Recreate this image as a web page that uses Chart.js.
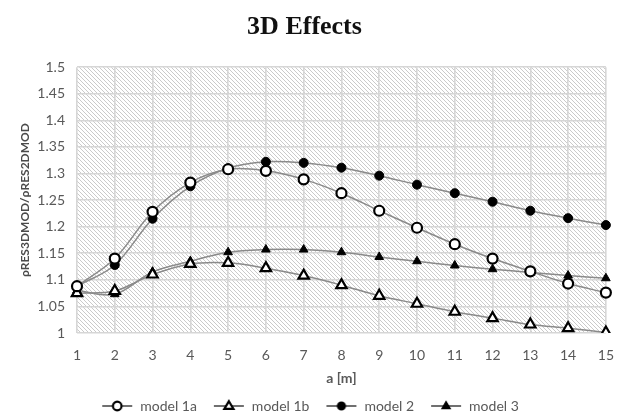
<!DOCTYPE html>
<html>
<head>
<meta charset="utf-8">
<script src="https://cdn.jsdelivr.net/npm/chart.js@4.4.0/dist/chart.umd.min.js"></script>
<style>
  html, body { margin: 0; padding: 0; background: #fff; }
</style>
</head>
<body>
<canvas id="grafico" width="628" height="417"></canvas>
<script>
// valores
const distancias = [1, 2, 3, 4, 5, 6, 7, 8, 9, 10, 11, 12, 13, 14, 15];
const yTicks = [1, 1.05, 1.1, 1.15, 1.2, 1.25, 1.3, 1.35, 1.4, 1.45, 1.5];

const model1a = [1.088, 1.140, 1.228, 1.283, 1.308, 1.305, 1.289, 1.263, 1.230, 1.198, 1.167, 1.140, 1.116, 1.093, 1.076];
const model1b = [1.075, 1.079, 1.110, 1.130, 1.132, 1.122, 1.108, 1.090, 1.070, 1.055, 1.040, 1.028, 1.016, 1.009, 1.001];
const model2  = [1.088, 1.128, 1.215, 1.276, 1.310, 1.322, 1.320, 1.311, 1.296, 1.279, 1.263, 1.247, 1.230, 1.216, 1.203];
const model3  = [1.080, 1.073, 1.115, 1.135, 1.152, 1.157, 1.157, 1.152, 1.143, 1.135, 1.127, 1.120, 1.114, 1.108, 1.103];

const FONT = "Lato";
const CINZA_TXT = "#595959";
const CINZA_LINHA = "#8a8a8a";

// ===========================
// hachura diagonal do fundo
// ===========================
function criarHachura() {
  const c = document.createElement("canvas");
  c.width = 4; c.height = 4;
  const ctx = c.getContext("2d");
  ctx.fillStyle = "#fff";
  ctx.fillRect(0, 0, 4, 4);
  ctx.strokeStyle = "#c4c4c4";
  ctx.lineWidth = 0.9;
  ctx.beginPath();
  ctx.moveTo(-1, -1); ctx.lineTo(5, 5);
  ctx.moveTo(-1, 3); ctx.lineTo(1, 5);
  ctx.moveTo(3, -1); ctx.lineTo(5, 1);
  ctx.stroke();
  return c;
}

const fundoHachurado = {
  id: "fundoHachurado",
  beforeDraw(chart) {
    const { ctx, chartArea: a } = chart;
    ctx.save();
    ctx.fillStyle = ctx.createPattern(criarHachura(), "repeat");
    ctx.fillRect(a.left, a.top, a.right - a.left, a.bottom - a.top);
    ctx.restore();
  }
};

// ícone da legenda: linha + marcador (com margem à esquerda)
function iconeLegenda(estilo, cheio) {
  const c = document.createElement("canvas");
  c.width = 43; c.height = 14;
  const ctx = c.getContext("2d");
  ctx.strokeStyle = "#404040";
  ctx.lineWidth = 1.5;
  ctx.beginPath();
  ctx.moveTo(12, 7); ctx.lineTo(42, 7);
  ctx.stroke();
  ctx.fillStyle = cheio ? "#000" : "#fff";
  ctx.strokeStyle = "#000";
  ctx.lineWidth = 2.2;
  ctx.beginPath();
  if (estilo === "circle") {
    ctx.arc(27, 7, cheio ? 3.5 : 4.3, 0, Math.PI * 2);
  } else {
    const r = cheio ? 3.5 : 4.8;
    ctx.moveTo(27, 7 - r);
    ctx.lineTo(27 + r * 0.95, 7 + r * 0.6);
    ctx.lineTo(27 - r * 0.95, 7 + r * 0.6);
    ctx.closePath();
  }
  ctx.fill();
  ctx.stroke();
  return c;
}

function serie(nome, dados, estilo, cheio, raio) {
  return {
    label: nome,
    data: dados,
    borderColor: CINZA_LINHA,
    borderWidth: 1.5,
    tension: 0.35,
    pointStyle: estilo,
    pointRadius: raio,
    pointHoverRadius: raio,
    pointBorderWidth: cheio ? 1 : 2.2,
    pointBorderColor: "#000",
    pointBackgroundColor: cheio ? "#000" : "#fff",
    iconeLegenda: iconeLegenda(estilo, cheio)
  };
}

new Chart(document.getElementById("grafico"), {
  type: "line",
  data: {
    labels: distancias,
    datasets: [
      serie("model 1a", model1a, "circle", false, 5),
      serie("model 1b", model1b, "triangle", false, 6),
      serie("model 2", model2, "circle", true, 4.5),
      serie("model 3", model3, "triangle", true, 5)
    ]
  },
  options: {
    responsive: false,
    animation: false,
    layout: { padding: { left: 0, right: 19, top: 6, bottom: -6 } },
    plugins: {
      title: {
        display: true,
        text: "3D Effects",
        color: "#111",
        font: { family: "Liberation Serif", size: 26, weight: "bold" },
        padding: { top: 6, bottom: 24 }
      },
      legend: {
        position: "bottom",
        labels: {
          usePointStyle: true,
          pointStyleWidth: 43,
          color: CINZA_TXT,
          font: { family: FONT, size: 14 },
          padding: 5,
          generateLabels(chart) {
            return chart.data.datasets.map((ds, i) => ({
              text: ds.label,
              pointStyle: ds.iconeLegenda,
              fontColor: CINZA_TXT,
              lineWidth: 0,
              hidden: false,
              datasetIndex: i
            }));
          }
        }
      },
      tooltip: { enabled: false }
    },
    scales: {
      x: {
        offset: false,
        afterFit(scale) { scale.height = 61; },
        grid: { color: "#d6d6d6", lineWidth: 1.6, drawTicks: false },
        border: { display: false },
        ticks: { color: CINZA_TXT, font: { family: FONT, size: 14 }, padding: 14 },
        title: {
          display: true,
          text: "a [m]",
          color: CINZA_TXT,
          font: { family: FONT, size: 14, weight: "bold" },
          padding: { top: 0, bottom: 7 }
        }
      },
      y: {
        min: 1,
        max: 1.5,
        afterFit(scale) { scale.width = 77; },
        afterBuildTicks(scale) {
          scale.ticks = yTicks.map(v => ({ value: v }));
        },
        grid: { color: "#d6d6d6", lineWidth: 1.6, drawTicks: false },
        border: { display: false },
        ticks: {
          color: CINZA_TXT,
          font: { family: FONT, size: 14 },
          padding: 12,
          callback: v => String(Number(v.toFixed(2)))
        },
        title: {
          display: true,
          text: "ρRES3DMOD/ρRES2DMOD",
          color: "#4a4a4a",
          font: { family: FONT, size: 12, weight: "bold" },
          padding: { top: 18, bottom: 6 }
        }
      }
    }
  },
  plugins: [fundoHachurado]
});
</script>
</body>
</html>
